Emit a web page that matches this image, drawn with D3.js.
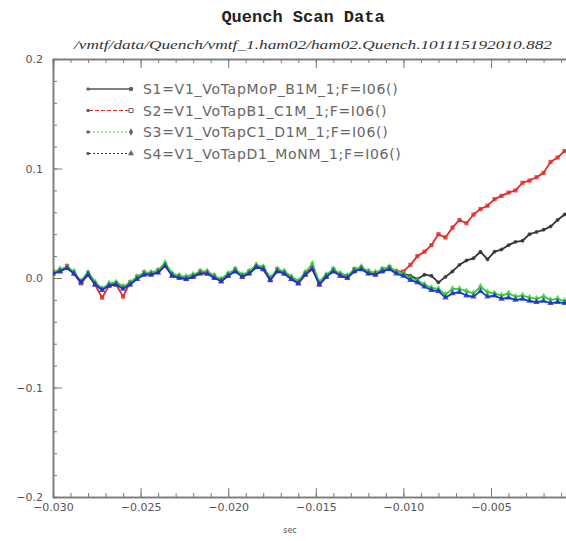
<!DOCTYPE html>
<html>
<head>
<meta charset="utf-8">
<script src="https://cdn.jsdelivr.net/npm/d3@7/dist/d3.min.js"></script>
<style>
  body { margin: 0; background: #fff; }
  svg { display: block; }
</style>
</head>
<body>
<svg id="chart" width="566" height="541"></svg>
<script>
var titleText = "Quench Scan Data";
var subTitleText = "/vmtf/data/Quench/vmtf_1.ham02/ham02.Quench.101115192010.882";
var xLabelText = "sec";
var xTicks = [-0.030, -0.025, -0.020, -0.015, -0.010, -0.005];
var yTicks = [0.2, 0.1, 0.0, -0.1, -0.2];
var seriesNames = ["S1=V1_VoTapMoP_B1M_1;F=I06()", "S2=V1_VoTapB1_C1M_1;F=I06()",
    "S3=V1_VoTapC1_D1M_1;F=I06()", "S4=V1_VoTapD1_MoNM_1;F=I06()"];

// sample times (sec)
var sampleTime = [
    -0.0300, -0.0296, -0.0292, -0.0288, -0.0284, -0.0280, -0.0276, -0.0272, -0.0268, -0.0264,
    -0.0260, -0.0256, -0.0252, -0.0248, -0.0244, -0.0240, -0.0236, -0.0232, -0.0228, -0.0224,
    -0.0220, -0.0216, -0.0212, -0.0208, -0.0204, -0.0200, -0.0196, -0.0192, -0.0188, -0.0184,
    -0.0180, -0.0176, -0.0172, -0.0168, -0.0164, -0.0160, -0.0156, -0.0152, -0.0148, -0.0144,
    -0.0140, -0.0136, -0.0132, -0.0128, -0.0124, -0.0120, -0.0116, -0.0112, -0.0108, -0.0104,
    -0.0100, -0.0096, -0.0092, -0.0088, -0.0084, -0.0080, -0.0076, -0.0072, -0.0068, -0.0064,
    -0.0060, -0.0056, -0.0052, -0.0048, -0.0044, -0.0040, -0.0036, -0.0032, -0.0028, -0.0024,
    -0.0020, -0.0016, -0.0012, -0.0008, -0.0004];

var s1Values = [
    0.004, 0.008, 0.009, 0.004, -0.003, 0.005, -0.004, -0.010, -0.007, -0.004,
    -0.008, -0.006, 0.001, 0.003, 0.005, 0.005, 0.012, 0.004, 0.000, 0.001,
    0.003, 0.004, 0.006, 0.000, -0.001, 0.004, 0.006, 0.003, 0.004, 0.010,
    0.010, 0.000, 0.006, 0.006, 0.001, -0.003, 0.005, 0.008, -0.004, 0.003,
    0.006, 0.004, 0.002, 0.006, 0.010, 0.004, 0.005, 0.006, 0.008, 0.006,
    0.004, 0.002, -0.001, 0.003, 0.002, -0.004, 0.001, 0.006, 0.012, 0.016,
    0.018, 0.024, 0.017, 0.024, 0.026, 0.030, 0.033, 0.034, 0.040, 0.042,
    0.044, 0.047, 0.053, 0.058, 0.062];

var s2Values = [
    0.006, 0.006, 0.011, 0.004, -0.005, 0.003, -0.006, -0.018, -0.007, -0.006,
    -0.017, -0.004, 0.001, 0.005, 0.003, 0.007, 0.012, 0.002, 0.002, -0.001,
    0.001, 0.006, 0.004, 0.002, -0.003, 0.002, 0.008, 0.001, 0.006, 0.010,
    0.008, -0.002, 0.008, 0.004, -0.001, -0.005, 0.003, 0.010, -0.006, 0.001,
    0.008, 0.002, 0.000, 0.008, 0.008, 0.006, 0.003, 0.008, 0.010, 0.006,
    0.006, 0.012, 0.020, 0.024, 0.030, 0.040, 0.037, 0.046, 0.053, 0.050,
    0.058, 0.063, 0.066, 0.072, 0.075, 0.078, 0.080, 0.087, 0.089, 0.092,
    0.096, 0.106, 0.110, 0.116, 0.120];

var s3Values = [
    0.005, 0.008, 0.010, 0.006, -0.003, 0.005, -0.004, -0.010, -0.005, -0.004,
    -0.008, -0.004, 0.001, 0.005, 0.005, 0.007, 0.014, 0.004, 0.002, 0.001,
    0.003, 0.006, 0.006, 0.002, -0.001, 0.004, 0.008, 0.003, 0.006, 0.012,
    0.010, 0.000, 0.008, 0.006, 0.001, -0.003, 0.005, 0.013, -0.004, 0.003,
    0.008, 0.004, 0.002, 0.008, 0.010, 0.006, 0.005, 0.008, 0.010, 0.006,
    0.004, 0.000, -0.002, -0.006, -0.009, -0.010, -0.015, -0.010, -0.010, -0.012,
    -0.014, -0.008, -0.013, -0.014, -0.016, -0.014, -0.017, -0.016, -0.018, -0.019,
    -0.017, -0.020, -0.019, -0.021, -0.020];

var s4Values = [
    0.004, 0.006, 0.009, 0.004, -0.004, 0.003, -0.006, -0.011, -0.007, -0.006,
    -0.010, -0.006, -0.001, 0.003, 0.003, 0.005, 0.011, 0.002, 0.000, -0.001,
    0.001, 0.004, 0.004, 0.000, -0.003, 0.002, 0.006, 0.001, 0.004, 0.010,
    0.008, -0.002, 0.006, 0.004, -0.001, -0.005, 0.003, 0.008, -0.006, 0.001,
    0.006, 0.002, 0.000, 0.006, 0.008, 0.004, 0.003, 0.006, 0.008, 0.004,
    0.002, -0.002, -0.004, -0.008, -0.011, -0.012, -0.018, -0.014, -0.013, -0.016,
    -0.017, -0.012, -0.017, -0.016, -0.019, -0.018, -0.020, -0.019, -0.021, -0.022,
    -0.021, -0.023, -0.022, -0.023, -0.022];

var seriesValues = [s1Values, s2Values, s3Values, s4Values];
var seriesColors = ["#333333", "#e52a2a", "#33cc33", "#1f2fd0"];
var seriesDash = [null, "4,2", "2,2", "2,2"];
var seriesSymbols = [d3.symbolCircle, d3.symbolSquare, d3.symbolDiamond, d3.symbolTriangle];

var svg = d3.select("#chart"),
    plotLeft = 53, plotTop = 59, plotBottom = 497,
    axisColor = "#7a7a7a", textColor = "#555";

var x = d3.scaleLinear().domain([-0.030, 0.005]).range([plotLeft, plotLeft + 7 * 87.6]);
var y = d3.scaleLinear().domain([-0.2, 0.2]).range([plotBottom, plotTop]);

var fmtX = function (d) { return d.toFixed(3).replace("-", "\u2212"); };
var fmtY = function (d) { return d.toFixed(1).replace("-", "\u2212"); };

// titles
svg.append("text")
    .attr("x", 303).attr("y", 22)
    .attr("text-anchor", "middle")
    .style("font", "bold 17px 'Liberation Mono', monospace")
    .attr("fill", "#222")
    .text(titleText);

svg.append("text")
    .attr("x", 74).attr("y", 49)
    .attr("textLength", 478).attr("lengthAdjust", "spacingAndGlyphs")
    .style("font", "italic 13px 'Liberation Serif', serif")
    .attr("fill", "#333")
    .text(subTitleText);

// axes: major + minor ticks, all pointing inward
var xMinor = d3.range(-0.030, 0.0051, 0.001);
var yMinor = d3.range(-0.2, 0.2001, 0.02);

var gBottom = svg.append("g").attr("transform", "translate(0," + plotBottom + ")");
gBottom.call(d3.axisBottom(x).tickValues(xMinor).tickSize(-4).tickFormat(""));
gBottom.append("g").call(d3.axisBottom(x).tickValues(xTicks).tickSizeInner(-9).tickSizeOuter(0).tickPadding(6).tickFormat(fmtX));

var gTop = svg.append("g").attr("transform", "translate(0," + plotTop + ")");
gTop.call(d3.axisTop(x).tickValues(xMinor).tickSize(-4).tickFormat(""));
gTop.append("g").call(d3.axisTop(x).tickValues(xTicks).tickSize(-9).tickFormat(""));

var gLeft = svg.append("g").attr("transform", "translate(" + plotLeft + ",0)");
gLeft.call(d3.axisLeft(y).tickValues(yMinor).tickSize(-4).tickFormat(""));
gLeft.append("g").call(d3.axisLeft(y).tickValues(yTicks).tickSizeInner(-9).tickSizeOuter(0).tickPadding(10).tickFormat(fmtY));

svg.selectAll(".domain").attr("stroke", axisColor).attr("stroke-width", 1.5);
svg.selectAll(".tick line").attr("stroke", axisColor);
svg.selectAll(".tick text")
    .attr("fill", textColor)
    .style("font", "11px 'DejaVu Sans', sans-serif");

// x axis label
svg.append("text")
    .attr("x", 290).attr("y", 533)
    .attr("text-anchor", "middle")
    .attr("fill", textColor)
    .style("font", "8px 'DejaVu Sans', sans-serif")
    .text(xLabelText);

// data
svg.append("clipPath").attr("id", "plotClip")
    .append("rect").attr("x", plotLeft).attr("y", plotTop).attr("width", 700).attr("height", plotBottom - plotTop);

var plot = svg.append("g").attr("clip-path", "url(#plotClip)");

var line = d3.line()
    .x(function (d, i) { return x(sampleTime[i]); })
    .y(function (d) { return y(d); });

for (var s = 0; s < seriesValues.length; s++) {
    plot.append("path")
        .datum(seriesValues[s])
        .attr("fill", "none")
        .attr("stroke", seriesColors[s])
        .attr("stroke-width", 1.8)
        .attr("stroke-linejoin", "round")
        .attr("d", line);

    plot.selectAll(".mk" + s)
        .data(seriesValues[s])
        .enter().append("path")
        .attr("class", "mk" + s)
        .attr("transform", function (d, i) { return "translate(" + x(sampleTime[i]) + "," + y(d) + ")"; })
        .attr("d", d3.symbol().type(seriesSymbols[s]).size(s == 0 ? 12 : 18))
        .attr("fill", seriesColors[s])
        .attr("fill-opacity", 0.8);
}

// legend
var legend = svg.append("g");
for (var k = 0; k < seriesNames.length; k++) {
    var ly = 89 + k * 21.5;
    legend.append("line")
        .attr("x1", 89).attr("x2", 130).attr("y1", ly).attr("y2", ly)
        .attr("stroke", k == 0 ? "#555" : seriesColors[k])
        .attr("stroke-width", k == 0 ? 1.6 : 1)
        .attr("stroke-dasharray", seriesDash[k]);
    legend.append("path")
        .attr("transform", "translate(88," + ly + ")")
        .attr("d", d3.symbol().type(d3.symbolSquare).size(8))
        .attr("fill", "#555");
    legend.append("path")
        .attr("transform", "translate(131," + ly + ")")
        .attr("d", d3.symbol().type(seriesSymbols[k]).size(16))
        .attr("fill", k == 1 ? "#fff" : "#666")
        .attr("stroke", "#666")
        .attr("stroke-width", k == 1 ? 1 : 0);
    legend.append("text")
        .attr("x", 143).attr("y", ly + 5)
        .attr("fill", "#666")
        .style("font", "14px 'DejaVu Sans', sans-serif")
        .style("letter-spacing", "0.7px")
        .text(seriesNames[k]);
}
</script>
</body>
</html>
